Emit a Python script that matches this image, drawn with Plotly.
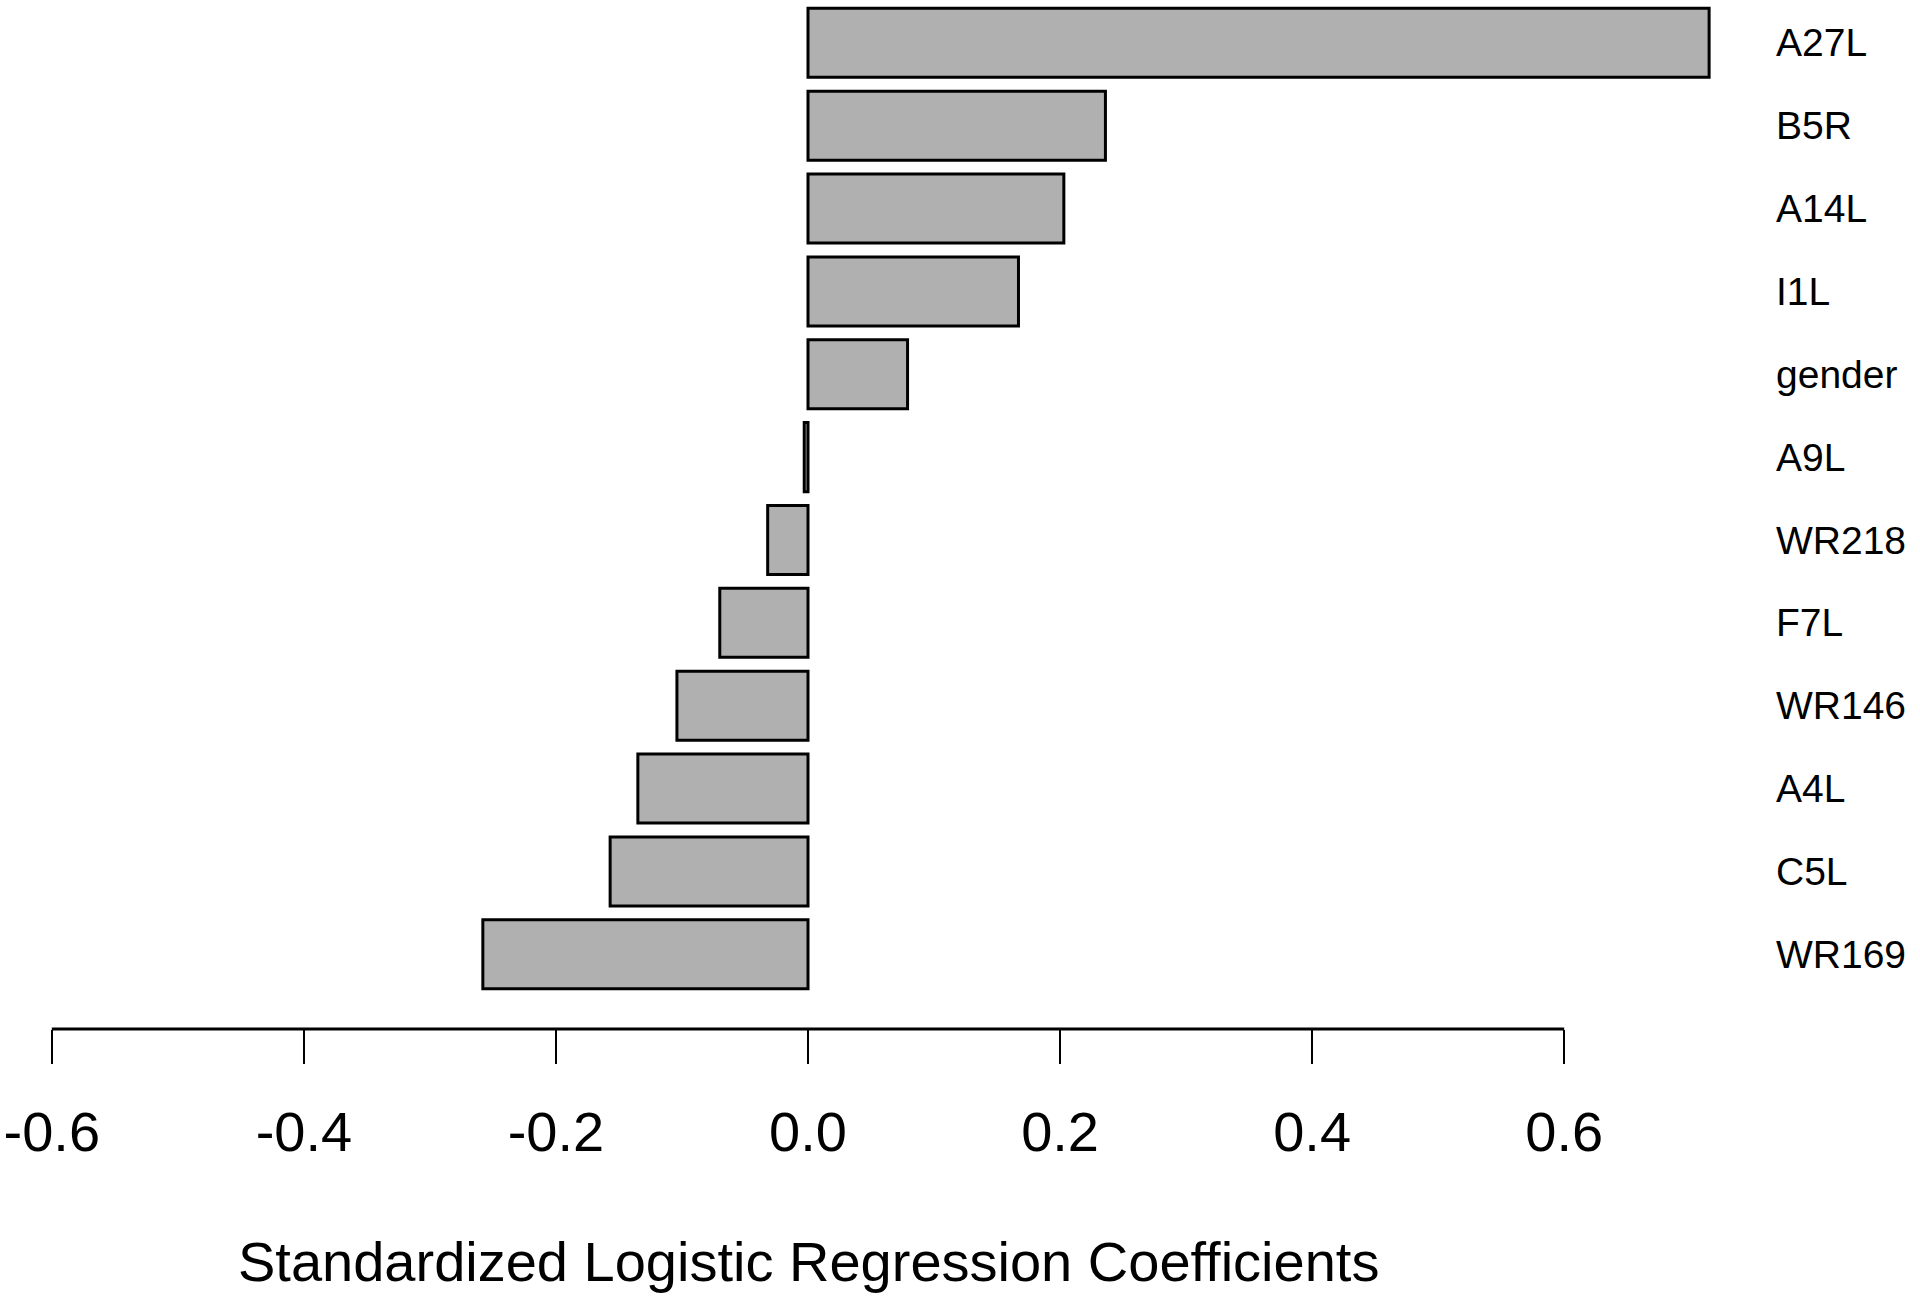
import plotly.graph_objects as go

# Data (top-to-bottom order as shown)
categories = ["A27L", "B5R", "A14L", "I1L", "gender", "A9L",
              "WR218", "F7L", "WR146", "A4L", "C5L", "WR169"]
coefficients = [0.715, 0.236, 0.203, 0.167, 0.079, -0.003,
                -0.032, -0.070, -0.104, -0.135, -0.157, -0.258]
tick_values = [-0.6, -0.4, -0.2, 0.0, 0.2, 0.4, 0.6]
tick_labels = ["-0.6", "-0.4", "-0.2", "0.0", "0.2", "0.4", "0.6"]
x_title = "Standardized Logistic Regression Coefficients"

W, H = 1920, 1303
FONT = "Liberation Sans, Arial, Helvetica, sans-serif"

# pixel geometry
x0_px = 808.0
px_per_unit = 1260.3
left_px, right_px = 20, 1730
plot_bottom_px = 1028.6
xr = [(left_px - x0_px) / px_per_unit, (right_px - x0_px) / px_per_unit]

cats_bottom_up = categories[::-1]
vals_bottom_up = coefficients[::-1]

fig = go.Figure()
fig.add_trace(go.Bar(
    x=vals_bottom_up,
    y=cats_bottom_up,
    orientation="h",
    marker=dict(color="#B0B0B0", line=dict(color="black", width=3)),
    hoverinfo="x+y",
))

fig.update_layout(
    width=W, height=H,
    margin=dict(l=left_px, r=W - right_px, t=0, b=H - plot_bottom_px, pad=0),
    plot_bgcolor="white",
    paper_bgcolor="white",
    bargap=0.1667,
    showlegend=False,
    font=dict(family=FONT, color="black"),
)

fig.update_xaxes(
    range=xr,
    tickmode="array",
    tickvals=tick_values,
    ticktext=tick_labels,
    ticks="outside",
    ticklen=34,
    tickwidth=2,
    tickcolor="black",
    showline=False,
    showgrid=False,
    zeroline=False,
    tickfont=dict(size=56, family=FONT, color="black"),
    ticklabelstandoff=20,
)

fig.update_yaxes(
    type="category",
    categoryorder="array",
    categoryarray=cats_bottom_up,
    range=[-0.902, 11.517],
    side="right",
    ticks="",
    showline=False,
    showgrid=False,
    zeroline=False,
    tickfont=dict(size=39, family=FONT, color="black"),
    ticklabelstandoff=45,
)

# axis line only spanning the tick range (like R's axis())
fig.add_shape(type="line", xref="x", yref="paper",
              x0=tick_values[0], x1=tick_values[-1], y0=0, y1=0,
              line=dict(color="black", width=3))

fig.add_annotation(
    text=x_title, xref="x", yref="paper",
    x=0.0, y=(plot_bottom_px - 1261) / plot_bottom_px,
    xanchor="center", yanchor="middle", showarrow=False,
    font=dict(size=56, family=FONT, color="black"),
)

fig.write_html("out.html",
               config={"displayModeBar": False},
               post_script="document.body.style.margin='0px';document.body.style.overflow='hidden';")
